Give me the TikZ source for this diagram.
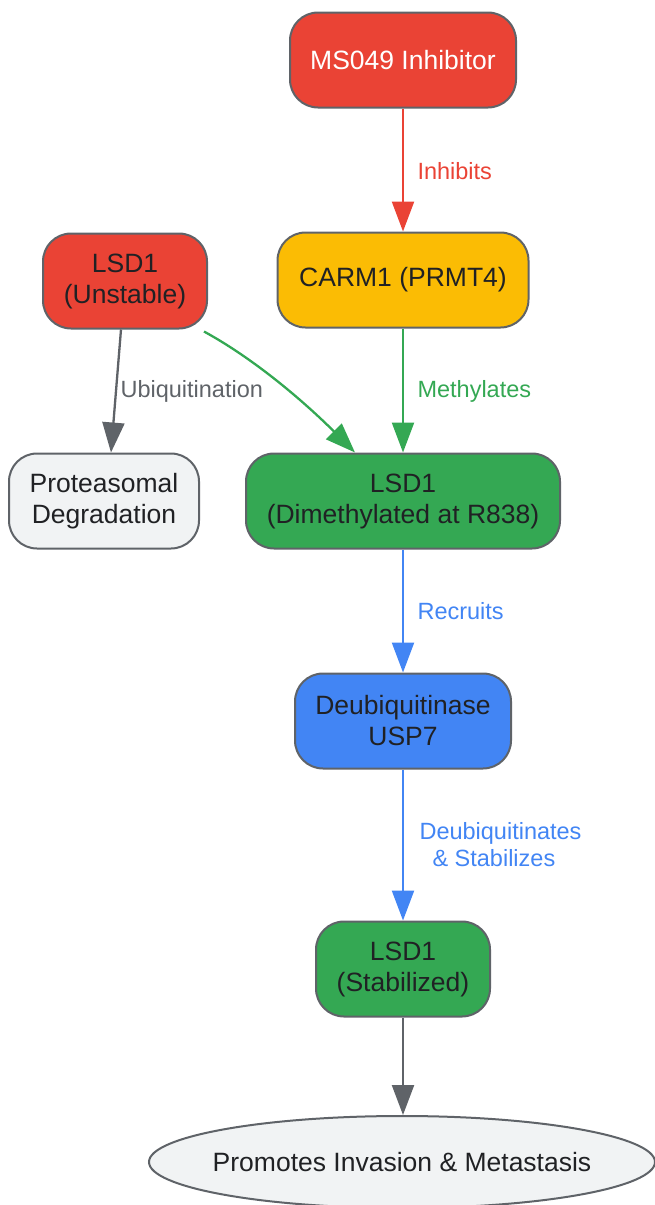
\documentclass[tikz,border=0pt]{standalone}
\usepackage{fontspec}
\setmainfont{Liberation Sans}
\usepackage{tikz}
\usetikzlibrary{positioning,arrows.meta,calc,shapes.geometric}
\definecolor{inhred}{HTML}{EA4335}
\definecolor{carmyellow}{HTML}{FBBC04}
\definecolor{methgreen}{HTML}{34A853}
\definecolor{uspblue}{HTML}{4285F4}
\definecolor{degradegray}{HTML}{F1F3F4}
\definecolor{edgegray}{HTML}{5F6368}
\definecolor{textdark}{HTML}{202124}

\begin{document}
\begin{tikzpicture}[x=1pt,y=-1pt,
    box/.style={draw=edgegray, line width=2pt, rounded corners=28pt, minimum height=95pt,
        inner sep=0pt, align=center, text=textdark, font=\fontsize{26.5}{31}\selectfont},
    lbl/.style={anchor=west, align=left, font=\fontsize{23.5}{27}\selectfont},
    link/.style={line width=2.3pt, -{Triangle[length=30pt,width=22pt]}}]
    \useasboundingbox (0,0) rectangle (654,1205);

    % Nodes
    \node[box, fill=inhred, text=white, minimum width=226pt] (ms049) at (403,60) {MS049 Inhibitor};
    \node[box, fill=carmyellow, minimum width=251pt] (carm) at (403,280) {CARM1 (PRMT4)};
    \node[box, fill=inhred, minimum width=164pt] (unstable) at (125,281) {LSD1\\(Unstable)};
    \node[box, fill=degradegray, minimum width=190pt] (degrade) at (104,501) {Proteasomal\\Degradation};
    \node[box, fill=methgreen, minimum width=314pt] (dimeth) at (403,501) {LSD1\\(Dimethylated at R838)};
    \node[box, fill=uspblue, minimum width=216pt] (usp) at (403,721) {Deubiquitinase\\USP7};
    \node[box, fill=methgreen, minimum width=174pt] (stable) at (403,969) {LSD1\\(Stabilized)};
    \node[ellipse, draw=edgegray, line width=2pt, fill=degradegray, minimum width=506pt, minimum height=92pt,
        inner sep=0pt, text=textdark, font=\fontsize{26.5}{31}\selectfont] (invasion) at (402,1162)
        {\makebox[0pt]{Promotes Invasion \& Metastasis}};

    % Connectors
    \draw[link, inhred] (ms049) -- (carm);
    \draw[link, edgegray] ([xshift=-4pt]unstable.south) -- ([xshift=7pt]degrade.north);
    \draw[link, methgreen] ($(unstable.south east)+(-4,2)$) .. controls +(55,30) and +(-45,-45) .. ($(dimeth.north)+(-48,0)$);
    \draw[link, methgreen] (carm) -- (dimeth);
    \draw[link, uspblue] (dimeth) -- (usp);
    \draw[link, uspblue] (usp) -- (stable);
    \draw[link, edgegray] (stable) -- (stable |- invasion.north);

    % Edge labels
    \node[lbl, text=inhred] (lblinh) at (414,171) {Inhibits};
    \node[lbl, text=edgegray] (lblubi) at (117,391) {Ubiquitination};
    \node[lbl, text=methgreen] (lblmeth) at (414,391) {Methylates};
    \node[lbl, text=uspblue] (lbldub) at (416,845) {Deubiquitinates\\\hspace*{13pt}\& Stabilizes};
    \node[lbl, text=uspblue] (lblrec) at (414,611) {Recruits};
\end{tikzpicture}
\end{document}
